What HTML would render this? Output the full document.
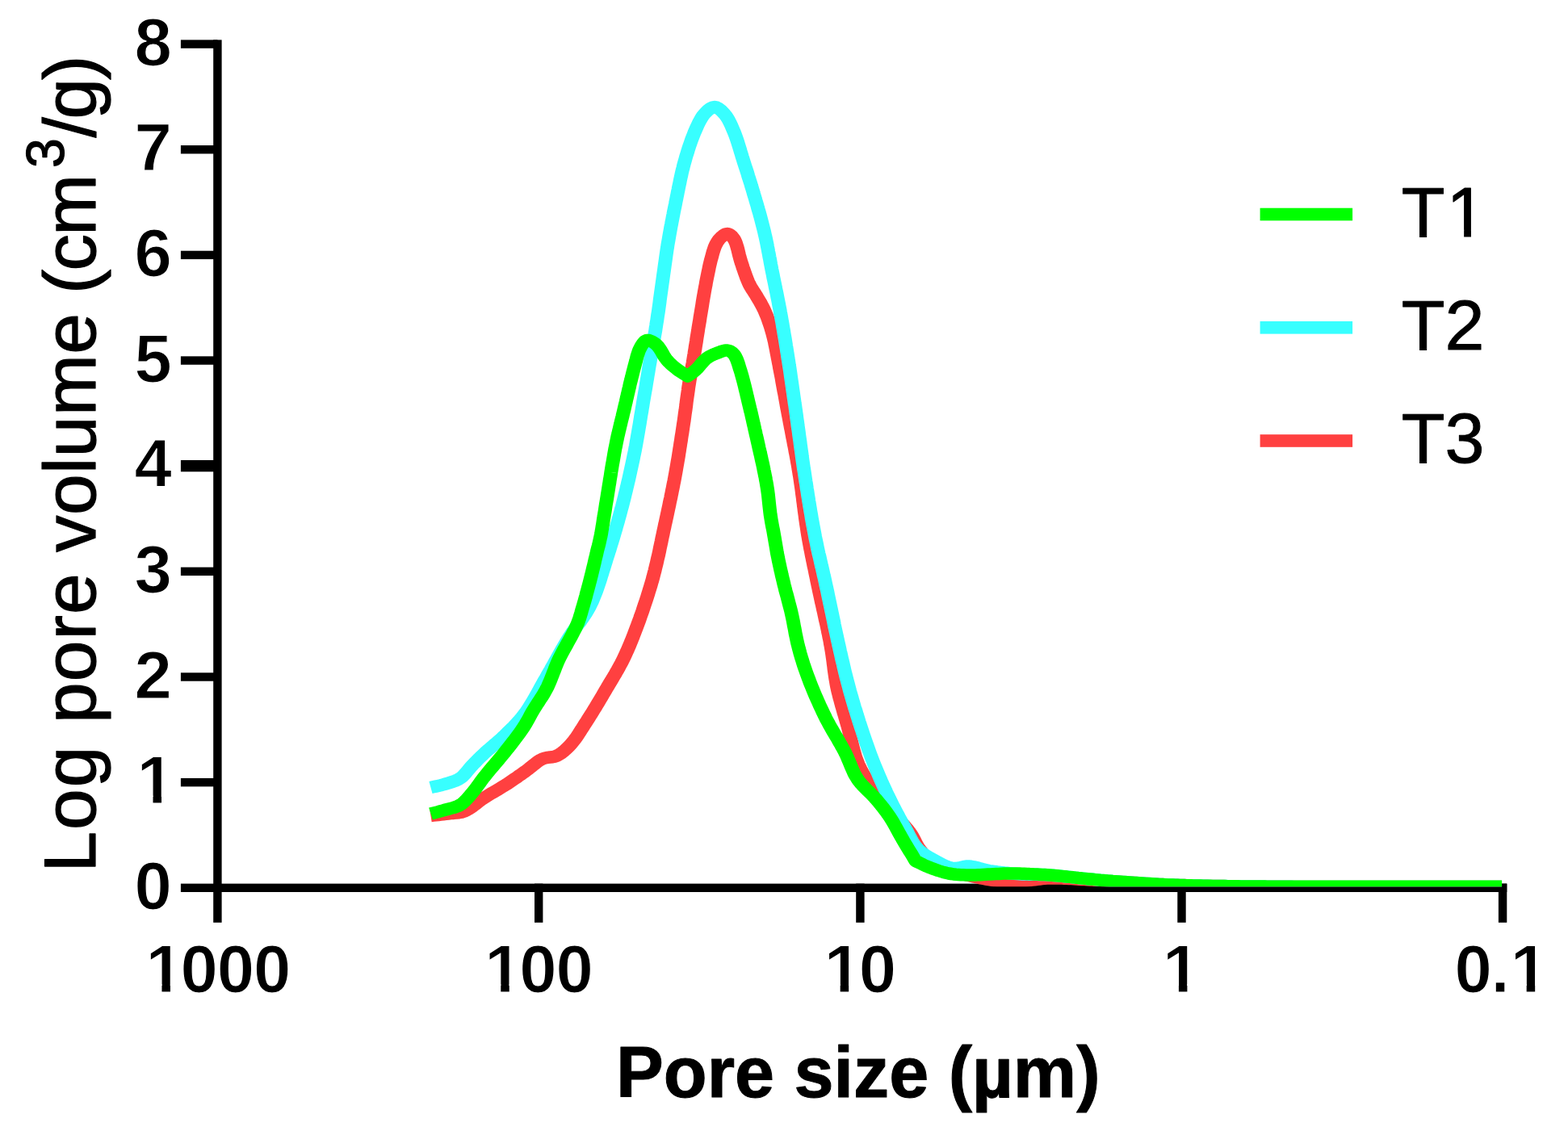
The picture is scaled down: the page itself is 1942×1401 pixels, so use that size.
<!DOCTYPE html>
<html>
<head>
<meta charset="utf-8">
<title>Pore size distribution</title>
<style>
html,body{margin:0;padding:0;background:#fff;}
body{width:1942px;height:1401px;overflow:hidden;}
svg{display:block;}
text{font-family:"Liberation Sans",Arial,Helvetica,sans-serif;fill:#000;}
.b{font-weight:bold;}
</style>
</head>
<body>
<svg xmlns="http://www.w3.org/2000/svg" width="1942" height="1401" viewBox="0 0 1942 1401">
<rect x="0" y="0" width="1942" height="1401" fill="#fff"/>
<defs><clipPath id="plot"><rect x="0" y="0" width="1942" height="1098.3"/></clipPath></defs>
<g fill="#000">
<rect x="264.2" y="49.4" width="10.4" height="1093.4"/>
<rect x="223.9" y="1094.6" width="1642.4" height="10.4"/>
<rect x="223.9" y="963.95" width="45.5" height="10.4"/>
<rect x="223.9" y="833.3" width="45.5" height="10.4"/>
<rect x="223.9" y="702.65" width="45.5" height="10.4"/>
<rect x="223.9" y="570" width="45.5" height="14.3"/>
<rect x="223.9" y="441.35" width="45.5" height="10.4"/>
<rect x="223.9" y="310.7" width="45.5" height="10.4"/>
<rect x="223.9" y="180.05" width="45.5" height="10.4"/>
<rect x="223.9" y="49.4" width="45.5" height="10.4"/>
<rect x="662" y="1094.6" width="10.4" height="48.2"/>
<rect x="1060.2" y="1094.6" width="10.4" height="48.2"/>
<rect x="1458.3" y="1094.6" width="10.4" height="48.2"/>
<rect x="1855.9" y="1094.6" width="10.4" height="48.2"/>
</g>
<g clip-path="url(#plot)">
<g transform="scale(1.0968,1)" fill="none" stroke-width="15.5" stroke-linejoin="round" stroke-linecap="butt">
<path stroke="#ff4040" d="M486.4,1010.5L489.2,1010.1L492,1009.8L494.9,1009.5L497.7,1009.1L500.5,1008.8L503.3,1008.4L506,1008L509.1,1007.6L512.1,1007.4L515.2,1007.1L518.2,1006.7L521.2,1006.1L524.3,1005L526.5,1003.9L528.8,1002.5L531,1000.9L533.3,999.2L535.6,997.3L537.9,995.4L540.2,993.4L542.5,991.5L544.8,989.7L547.1,988L549.6,986.3L552.1,984.6L554.6,982.9L557.2,981.3L559.7,979.7L562.3,978.1L564.8,976.4L567.3,974.7L569.9,973L572.2,971.4L574.5,969.7L576.8,968L579.1,966.3L581.4,964.6L583.7,962.9L585.9,961.1L588.2,959.4L590.4,957.7L592.6,956L594.9,954.1L597.2,952.2L599.5,950.2L601.7,948.2L603.9,946.3L606.1,944.4L608.3,942.7L610.5,941.2L612.7,940L615.5,939L618.3,938.4L621.1,938L623.8,937.7L626.5,937.1L629.1,936L631.5,934.6L633.8,932.9L636,931.1L638.2,929L640.4,926.8L642.5,924.5L644.6,922L646.3,919.8L648,917.5L649.7,915.1L651.3,912.6L652.9,910L654.4,907.4L656,904.6L657.7,901.8L659.3,898.9L661,896L662.4,893.7L663.7,891.4L665.1,889L666.5,886.5L668,884L669.4,881.5L670.8,878.9L672.3,876.3L673.8,873.6L675.2,871L676.7,868.3L678.1,865.7L679.6,863L681,860.3L682.4,857.6L683.8,855L685.2,852.4L686.6,849.9L687.9,847.4L689.3,844.9L690.6,842.5L692,840L693.3,837.5L694.7,835L696,832.4L697.4,829.8L698.7,827.2L700,824.5L701.4,821.8L702.7,819L704,816.1L705.3,813.1L706.6,810L707.6,807.6L708.6,805.2L709.6,802.7L710.6,800.1L711.6,797.5L712.6,794.8L713.6,792.1L714.6,789.3L715.6,786.5L716.6,783.7L717.6,780.8L718.6,777.9L719.6,775L720.6,772L721.6,769.1L722.6,766.1L723.5,763.1L724.5,760.1L725.5,757.1L726.4,754.1L727.3,751.1L728.2,748.1L729.1,745.2L730,742.2L730.9,739.3L731.7,736.4L732.5,733.5L733.3,730.6L734.1,727.8L734.9,725L735.7,721.9L736.5,718.9L737.3,715.8L738,712.7L738.7,709.7L739.5,706.6L740.1,703.6L740.8,700.5L741.5,697.5L742.1,694.5L742.7,691.4L743.4,688.4L744,685.4L744.6,682.4L745.1,679.4L745.7,676.4L746.3,673.4L746.9,670.4L747.4,667.5L748,664.5L748.6,661.6L749.1,658.7L749.7,655.8L750.3,652.9L750.8,650L751.5,646.9L752.1,643.8L752.7,640.7L753.3,637.7L753.9,634.6L754.5,631.6L755.1,628.6L755.7,625.6L756.2,622.6L756.8,619.6L757.4,616.7L757.9,613.7L758.5,610.7L759,607.8L759.6,604.8L760.1,601.9L760.6,598.9L761.2,595.9L761.7,593L762.2,590L762.7,587L763.2,583.9L763.7,580.8L764.2,577.6L764.7,574.5L765.2,571.3L765.7,568.2L766.2,565L766.6,561.9L767.1,558.7L767.5,555.6L768,552.4L768.4,549.3L768.9,546.2L769.3,543.1L769.7,540L770.2,537L770.6,533.9L771,530.9L771.4,528L771.8,525L772.3,521.7L772.7,518.4L773.1,515.1L773.5,511.7L774,508.4L774.4,505.1L774.8,501.8L775.1,498.6L775.5,495.4L775.9,492.3L776.3,489.2L776.7,486.2L777.1,483.2L777.4,480.4L777.8,477.6L778.2,475L778.7,471.5L779.2,468.3L779.7,465.4L780.2,462.5L780.7,459.6L781.2,456.7L781.7,453.5L782.3,450L782.7,447.3L783.1,444.6L783.5,441.7L784,438.7L784.4,435.6L784.9,432.5L785.3,429.3L785.8,426.1L786.3,422.8L786.7,419.5L787.2,416.2L787.7,412.9L788.2,409.6L788.6,406.4L789.1,403.2L789.6,400L790.1,396.9L790.5,393.7L791,390.4L791.5,387.2L792,383.9L792.5,380.7L793,377.4L793.4,374.2L793.9,371L794.4,367.8L794.9,364.7L795.4,361.6L795.9,358.6L796.4,355.6L796.9,352.8L797.3,350L797.9,346.6L798.5,343.4L799.1,340.2L799.7,337L800.3,334L800.8,331L801.4,328.1L802,325.3L802.6,322.6L803.3,320L804.2,316.2L805.1,312.5L806.1,309.1L807.1,305.9L808.3,303L810,299.6L812,296.5L814.2,294L816.5,291.9L819,290.1L821.5,289.5L824,290.5L826.5,292.8L828.8,296L829.8,298L830.8,300.4L831.6,303.1L832.4,306L833.2,309.2L833.9,312.4L834.6,315.7L835.4,318.9L836.2,322.1L837,325L838,328.1L838.9,331.3L839.9,334.4L840.9,337.6L841.9,340.7L842.9,343.8L844,346.7L845,349.4L846.1,352L847.6,355.1L849.1,357.9L850.7,360.5L852.3,363.2L853.9,366L855.4,368.8L856.9,371.6L858.5,374.5L860,377.6L861.5,380.7L863,384L864.1,386.8L865.2,389.7L866.3,392.6L867.3,395.7L868.3,398.8L869.3,402L870.3,405.3L871.2,408.6L872.1,412L872.8,414.9L873.5,417.9L874.1,420.8L874.8,423.8L875.3,426.9L875.9,430L876.5,433.2L877,436.4L877.6,439.7L878.2,443.1L878.8,446.5L879.4,450L879.9,452.6L880.3,455.3L880.8,458L881.3,460.8L881.8,463.6L882.3,466.4L882.8,469.3L883.2,472.2L883.7,475.2L884.2,478.2L884.7,481.2L885.2,484.2L885.8,487.3L886.3,490.3L886.8,493.4L887.3,496.5L887.8,499.6L888.3,502.7L888.8,505.8L889.4,508.9L889.9,512L890.4,514.9L890.9,517.8L891.4,520.7L891.9,523.6L892.4,526.5L892.9,529.5L893.5,532.5L894,535.5L894.5,538.5L895,541.5L895.6,544.5L896.1,547.5L896.6,550.6L897.2,553.6L897.7,556.6L898.2,559.7L898.8,562.7L899.3,565.8L899.8,568.8L900.3,571.9L900.8,574.9L901.3,577.9L901.7,581L902.2,584L902.6,587L903.1,590L903.5,593L903.9,596L904.3,599.1L904.7,602.1L905.1,605.1L905.5,608.2L905.8,611.2L906.2,614.3L906.6,617.3L906.9,620.4L907.3,623.4L907.6,626.4L908,629.5L908.3,632.5L908.7,635.5L909.1,638.5L909.4,641.5L909.8,644.5L910.2,647.4L910.6,650.4L911,653.3L911.4,656.2L911.8,659.1L912.2,662L912.7,665.1L913.2,668.2L913.7,671.3L914.2,674.3L914.7,677.3L915.2,680.3L915.8,683.2L916.3,686.2L916.8,689.1L917.4,692.1L917.9,695L918.5,697.9L919,700.9L919.6,703.8L920.2,706.8L920.7,709.8L921.3,712.7L921.9,715.8L922.4,718.8L923,721.9L923.6,725L924.2,727.9L924.7,730.8L925.3,733.8L925.9,736.8L926.5,739.8L927.1,742.9L927.7,746L928.4,749L929,752.1L929.6,755.2L930.3,758.4L930.9,761.5L931.5,764.6L932.1,767.7L932.8,770.8L933.4,773.8L934,776.9L934.6,779.9L935.1,782.9L935.7,785.8L936.2,788.8L936.8,791.6L937.3,794.5L937.7,797.3L938.2,800L938.7,803.4L939.2,806.7L939.7,810L940.1,813.2L940.5,816.4L940.9,819.5L941.2,822.6L941.6,825.6L941.9,828.7L942.3,831.7L942.7,834.7L943.1,837.8L943.5,840.8L944,843.8L944.5,846.9L945,850L945.6,853L946.2,855.9L946.9,858.9L947.5,861.8L948.2,864.8L949,867.7L949.7,870.6L950.4,873.6L951.2,876.5L952,879.5L952.7,882.4L953.5,885.3L954.3,888.3L955.1,891.2L955.8,894.1L956.6,897.1L957.4,900L958.1,903L958.8,905.9L959.4,908.9L960.1,911.9L960.7,914.8L961.3,917.8L961.9,920.8L962.6,923.8L963.3,926.7L964,929.7L964.7,932.6L965.5,935.6L966.3,938.5L967.3,941.4L968.3,944.3L969.4,947.2L970.6,950L971.8,952.6L973.1,955.2L974.4,957.9L975.9,960.5L977.4,963.1L979,965.7L980.6,968.3L982.3,970.9L984,973.5L985.7,976.1L987.5,978.6L989.3,981.1L991,983.6L992.8,986.1L994.6,988.5L996.3,990.9L998,993.2L999.7,995.5L1001.4,997.8L1002.9,1000L1004.8,1002.6L1006.7,1005.1L1008.6,1007.5L1010.6,1009.9L1012.5,1012.3L1014.5,1014.6L1016.4,1016.9L1018.2,1019.1L1020.1,1021.3L1021.8,1023.5L1023.5,1025.7L1025.1,1027.8L1026.6,1029.9L1028,1032L1029.8,1035L1031.3,1038L1032.7,1040.9L1033.9,1043.7L1035.3,1046.5L1036.7,1049.3L1038.5,1052L1040.2,1054.4L1042,1056.8L1043.9,1059.2L1045.9,1061.5L1048,1063.8L1050.2,1066.1L1052.6,1068.2L1055,1070.2L1057.6,1072L1060,1073.4L1062.4,1074.7L1065,1075.8L1067.6,1076.9L1070.4,1078L1073.2,1078.9L1076.1,1079.8L1079.1,1080.6L1082.1,1081.4L1085.1,1082.2L1088.1,1083L1091.1,1083.7L1094.1,1084.5L1096.8,1085.2L1099.5,1085.9L1102.3,1086.6L1105.1,1087.2L1107.9,1087.9L1110.8,1088.5L1113.7,1089.1L1116.5,1089.7L1119.4,1090.2L1122.3,1090.7L1125.3,1091.1L1128.2,1091.5L1131.1,1091.9L1134,1092.1L1136.8,1092.4L1139.7,1092.5L1142.5,1092.5L1145.4,1092.5L1148.2,1092.3L1151.1,1092.1L1153.9,1091.8L1156.8,1091.4L1159.6,1091L1162.5,1090.6L1165.3,1090.2L1168.2,1089.8L1171,1089.3L1173.9,1089L1176.7,1088.6L1179.6,1088.3L1182.4,1088.1L1185.3,1088L1188.1,1087.9L1190.9,1087.9L1193.6,1087.9L1196.3,1088L1199,1088.1L1201.7,1088.2L1204.4,1088.3L1207.1,1088.5L1209.9,1088.6L1212.6,1088.8L1215.5,1089L1218.4,1089.2L1221.4,1089.4L1224.4,1089.6L1227.6,1089.8L1230.9,1090L1233.2,1090.1L1235.6,1090.3L1238,1090.4L1240.5,1090.6L1243,1090.7L1245.6,1090.9L1248.2,1091.1L1250.8,1091.3L1253.5,1091.5L1256.2,1091.7L1259,1091.9L1261.7,1092.1L1264.5,1092.3L1267.4,1092.5L1270.2,1092.7L1273.1,1092.9L1276,1093.1L1278.8,1093.3L1281.8,1093.5L1284.7,1093.8L1287.6,1094L1290.5,1094.2L1293.4,1094.4L1296.3,1094.6L1299.3,1094.7L1302.2,1094.9L1305.1,1095.1L1307.9,1095.3L1310.8,1095.4L1313.6,1095.6L1316.5,1095.7L1319.3,1095.9L1322.1,1096L1324.8,1096.1L1327.5,1096.2L1330.2,1096.3L1332.8,1096.4L1335.4,1096.5L1338,1096.6L1340.5,1096.7L1343,1096.8L1345.6,1096.9L1348.1,1096.9L1350.6,1097L1353.1,1097.1L1355.6,1097.1L1358.1,1097.2L1360.7,1097.2L1363.2,1097.3L1365.8,1097.4L1368.4,1097.4L1371,1097.4L1373.7,1097.5L1376.4,1097.5L1379.1,1097.6L1381.9,1097.6L1384.7,1097.7L1387.6,1097.7L1390.6,1097.7L1393.6,1097.8L1396.7,1097.8L1399.8,1097.8L1403.1,1097.9L1406.4,1097.9L1409.8,1098L1413.2,1098L1415.2,1098L1417.3,1098L1419.3,1098.1L1421.4,1098.1L1423.5,1098.1L1425.7,1098.1L1427.8,1098.1L1430,1098.2L1432.3,1098.2L1434.5,1098.2L1436.8,1098.2L1439.1,1098.2L1441.4,1098.2L1443.7,1098.3L1446.1,1098.3L1448.5,1098.3L1450.9,1098.3L1453.4,1098.3L1455.8,1098.3L1458.3,1098.3L1460.8,1098.4L1463.3,1098.4L1465.9,1098.4L1468.4,1098.4L1471,1098.4L1473.6,1098.4L1476.2,1098.4L1478.8,1098.4L1481.5,1098.4L1484.2,1098.4L1486.8,1098.4L1489.5,1098.4L1492.3,1098.4L1495,1098.5L1497.7,1098.5L1500.5,1098.5L1503.3,1098.5L1506.1,1098.5L1508.9,1098.5L1511.7,1098.5L1514.5,1098.5L1517.3,1098.5L1520.2,1098.5L1523.1,1098.5L1525.9,1098.5L1528.8,1098.5L1531.7,1098.5L1534.6,1098.5L1537.5,1098.5L1540.4,1098.5L1543.4,1098.5L1546.3,1098.5L1549.2,1098.5L1552.2,1098.5L1555.1,1098.5L1558.1,1098.5L1561.1,1098.5L1564,1098.5L1567,1098.5L1570,1098.5L1573,1098.5L1575.9,1098.5L1578.9,1098.5L1581.9,1098.5L1584.9,1098.5L1587.9,1098.5L1590.9,1098.5L1593.9,1098.5L1596.9,1098.5L1599.9,1098.5L1602.9,1098.5L1605.9,1098.5L1608.9,1098.5L1611.9,1098.5L1614.9,1098.5L1617.8,1098.5L1620.8,1098.5L1623.8,1098.5L1626.8,1098.5L1629.8,1098.5L1632.7,1098.5L1635.7,1098.5L1638.6,1098.5L1641.6,1098.5L1644.5,1098.5L1647.5,1098.5L1650.4,1098.5L1653.3,1098.5L1656.2,1098.5L1659.1,1098.5L1662,1098.5L1664.9,1098.5L1667.8,1098.5L1670.6,1098.5L1673.5,1098.5L1676.3,1098.5L1679.2,1098.5L1682,1098.5L1684.8,1098.5L1687.6,1098.5L1690.4,1098.5L1693.1,1098.5L1695.9,1098.5"/>
<path stroke="#38ffff" d="M486.4,975.5L489.2,974.8L492.1,974.1L494.9,973.4L497.7,972.7L500.5,971.9L503.3,971L506.1,970.1L508.9,969.1L511.8,968.1L514.5,967L517.2,965.6L519.7,964L521.9,962.2L523.9,960L525.8,957.7L527.7,955.3L529.6,952.8L531.5,950.3L533.4,948L535.3,945.8L537.2,943.7L539,941.6L540.9,939.5L542.9,937.4L544.9,935.3L547.1,933L548.9,931.1L550.8,929.3L552.9,927.4L554.9,925.4L557.1,923.4L559.2,921.4L561.4,919.4L563.5,917.4L565.7,915.3L567.8,913.1L569.9,911L571.8,908.9L573.7,906.8L575.7,904.8L577.6,902.6L579.6,900.5L581.5,898.3L583.4,896.1L585.3,893.8L587.1,891.5L589,889.1L590.8,886.6L592.6,884L594.1,881.8L595.6,879.4L597,877.1L598.4,874.6L599.8,872.1L601.2,869.6L602.6,867L604,864.3L605.3,861.7L606.7,859L608.1,856.3L609.4,853.6L610.8,850.8L612.2,848.1L613.6,845.4L614.9,842.7L616.4,840L617.7,837.4L619,834.8L620.4,832.2L621.8,829.6L623.1,826.9L624.5,824.2L625.8,821.6L627.2,818.9L628.6,816.2L629.9,813.5L631.3,810.8L632.7,808.1L634.1,805.4L635.4,802.8L636.8,800.2L638.2,797.6L639.6,795L641,792.5L642.3,790L644,787.2L645.6,784.5L647.2,781.9L648.9,779.3L650.6,776.7L652.3,774.2L654,771.7L655.6,769.2L657.3,766.6L658.9,764L660.5,761.4L662.1,758.7L663.6,755.9L665.1,753L666.5,750L667.6,747.5L668.7,744.9L669.7,742.3L670.7,739.6L671.7,736.8L672.7,734.1L673.7,731.2L674.6,728.4L675.5,725.5L676.4,722.5L677.3,719.6L678.2,716.6L679,713.6L679.9,710.6L680.7,707.6L681.6,704.6L682.4,701.7L683.2,698.7L684.1,695.7L684.9,692.8L685.7,689.9L686.6,687L687.4,684L688.3,681.1L689.1,678.2L689.9,675.2L690.8,672.3L691.6,669.3L692.4,666.4L693.2,663.4L694,660.5L694.8,657.5L695.6,654.6L696.3,651.6L697.1,648.7L697.9,645.7L698.6,642.8L699.4,639.8L700.1,636.9L700.8,633.9L701.5,630.9L702.3,628L703,625L703.7,622L704.4,619L705.1,616L705.7,613.1L706.4,610.1L707.1,607.1L707.7,604.1L708.4,601.1L709,598.1L709.7,595.1L710.3,592L710.9,589L711.5,586L712.1,583L712.7,580L713.3,577L713.9,574L714.5,571L715.1,568L715.6,565L716.2,562L716.8,558.9L717.3,555.8L717.9,552.6L718.4,549.5L718.9,546.3L719.4,543.2L719.9,540L720.4,536.9L720.9,533.7L721.4,530.6L721.9,527.4L722.4,524.3L722.8,521.2L723.3,518.1L723.7,515L724.2,512L724.7,508.9L725.1,505.9L725.6,503L726,500L726.5,496.7L727,493.5L727.5,490.3L728,487.1L728.5,484L729,480.9L729.5,477.8L729.9,474.7L730.4,471.6L730.9,468.5L731.3,465.4L731.8,462.4L732.3,459.3L732.7,456.2L733.2,453.1L733.7,450L734.2,446.9L734.7,443.8L735.2,440.6L735.7,437.5L736.2,434.4L736.7,431.3L737.1,428.1L737.6,425L738.1,421.9L738.6,418.8L739.1,415.6L739.6,412.5L740.1,409.4L740.5,406.3L741,403.1L741.4,400L741.9,396.9L742.3,393.8L742.7,390.6L743.2,387.5L743.6,384.4L744,381.3L744.4,378.1L744.8,375L745.1,371.9L745.5,368.8L745.9,365.6L746.3,362.5L746.7,359.4L747.1,356.3L747.5,353.1L747.9,350L748.3,346.9L748.7,343.7L749.1,340.6L749.5,337.5L749.9,334.4L750.3,331.2L750.7,328.1L751.1,325L751.5,321.9L751.9,318.7L752.3,315.6L752.7,312.5L753.1,309.4L753.6,306.2L754,303.1L754.5,300L755,296.9L755.5,293.7L756,290.6L756.5,287.5L757,284.4L757.5,281.2L758.1,278.1L758.6,275L759.2,271.9L759.7,268.7L760.3,265.6L760.8,262.5L761.4,259.4L762,256.2L762.6,253.1L763.1,250L763.7,247L764.2,244.1L764.8,241.1L765.3,238.1L765.9,235.1L766.4,232L767,229L767.6,226L768.1,223L768.7,220L769.3,217.1L769.9,214.1L770.5,211.2L771.2,208.4L771.8,205.5L772.5,202.7L773.2,200L774,196.9L774.8,193.7L775.7,190.6L776.6,187.5L777.4,184.4L778.3,181.4L779.3,178.4L780.2,175.5L781.1,172.6L782.1,169.8L783.1,167.1L784,164.5L785,162L786.4,158.5L787.8,155.1L789.2,151.9L790.7,148.8L792.2,146L793.8,143.3L795.5,141L797.6,138.6L799.9,136.2L802.2,134.3L804.6,133L806.9,132.5L809.2,133.1L811.6,134.5L814,136.6L816.2,139L818.3,141.5L820,143.8L821.5,146.4L823,149.2L824.4,152.2L825.7,155.3L827,158.6L828.3,162L829.3,164.5L830.2,167.1L831.1,169.9L832,172.7L832.9,175.6L833.7,178.6L834.6,181.7L835.5,184.7L836.3,187.8L837.2,190.9L838,194L838.9,197L839.7,200L840.6,203L841.5,206.1L842.4,209.1L843.3,212.1L844.2,215.1L845,218.2L845.9,221.2L846.8,224.3L847.7,227.4L848.5,230.5L849.4,233.6L850.3,236.8L851.1,240L851.9,242.8L852.7,245.7L853.4,248.5L854.2,251.4L855,254.3L855.7,257.2L856.5,260.2L857.3,263.1L858,266.1L858.8,269.1L859.5,272L860.2,275L860.9,278L861.6,281L862.3,284L863,287L863.6,290.1L864.3,293.2L864.9,296.3L865.5,299.4L866.1,302.5L866.6,305.6L867.2,308.7L867.7,311.9L868.3,315L868.8,318.2L869.4,321.3L869.9,324.5L870.4,327.6L871,330.7L871.5,333.9L872.1,337L872.7,340.1L873.2,343.2L873.8,346.3L874.4,349.4L875,352.4L875.5,355.5L876.1,358.6L876.7,361.6L877.3,364.7L877.8,367.8L878.4,370.9L879,374.1L879.5,377.3L880.1,380.5L880.7,383.7L881.2,387L881.7,389.8L882.2,392.7L882.6,395.6L883.1,398.5L883.6,401.5L884,404.5L884.5,407.5L885,410.5L885.4,413.5L885.9,416.5L886.4,419.6L886.8,422.6L887.3,425.7L887.7,428.8L888.2,431.8L888.6,434.9L889.1,437.9L889.5,441L889.9,444L890.4,447L890.8,450L891.2,453.1L891.7,456.2L892.1,459.3L892.5,462.3L892.9,465.4L893.3,468.4L893.7,471.5L894.1,474.5L894.5,477.6L894.9,480.7L895.3,483.7L895.7,486.8L896.1,489.9L896.5,493L896.9,496.1L897.3,499.2L897.8,502.4L898.2,505.6L898.6,508.8L899,512L899.4,514.9L899.7,517.8L900.1,520.7L900.5,523.6L900.8,526.5L901.2,529.5L901.6,532.5L902,535.5L902.3,538.5L902.7,541.5L903.1,544.5L903.5,547.5L903.8,550.6L904.2,553.6L904.6,556.7L905,559.7L905.4,562.8L905.7,565.8L906.1,568.9L906.5,571.9L906.9,574.9L907.3,578L907.7,581L908.2,584L908.6,587L909,590L909.4,593L909.8,596.1L910.3,599.1L910.7,602.1L911.1,605.2L911.6,608.2L912,611.3L912.4,614.3L912.9,617.3L913.3,620.4L913.8,623.4L914.2,626.5L914.7,629.5L915.1,632.5L915.6,635.5L916.1,638.5L916.5,641.5L917,644.5L917.5,647.4L918,650.4L918.5,653.3L919,656.2L919.5,659.1L920,662L920.5,665.1L921.1,668.2L921.7,671.3L922.3,674.3L922.8,677.3L923.4,680.3L924,683.2L924.6,686.2L925.3,689.1L925.9,692.1L926.5,695L927.1,697.9L927.7,700.9L928.4,703.8L929,706.8L929.6,709.7L930.2,712.7L930.9,715.8L931.5,718.8L932.1,721.9L932.7,725L933.3,727.9L933.9,730.8L934.5,733.8L935,736.8L935.6,739.8L936.2,742.9L936.8,746L937.4,749L938,752.1L938.6,755.3L939.2,758.4L939.8,761.5L940.4,764.6L941,767.7L941.6,770.8L942.1,773.9L942.7,776.9L943.3,779.9L943.9,782.9L944.5,785.9L945.1,788.8L945.6,791.7L946.2,794.5L946.8,797.3L947.3,800L948,803.2L948.6,806.4L949.3,809.4L949.9,812.5L950.5,815.5L951.1,818.4L951.8,821.3L952.4,824.2L953,827.1L953.6,830L954.2,832.8L954.9,835.6L955.5,838.5L956.2,841.3L956.9,844.2L957.6,847.1L958.3,850L959,853L959.7,855.9L960.5,858.9L961.3,861.9L962,864.8L962.8,867.8L963.6,870.8L964.4,873.7L965.2,876.7L966.1,879.6L966.9,882.6L967.7,885.5L968.6,888.5L969.4,891.4L970.2,894.3L971.1,897.1L971.9,900L972.9,903.1L973.8,906.2L974.7,909.2L975.7,912.3L976.6,915.3L977.5,918.3L978.5,921.3L979.5,924.3L980.4,927.3L981.4,930.3L982.4,933.2L983.4,936.2L984.4,939.1L985.5,942.1L986.5,945L987.6,947.9L988.6,950.7L989.7,953.6L990.8,956.4L991.9,959.3L993,962.1L994.1,964.9L995.2,967.7L996.4,970.5L997.5,973.3L998.7,976.1L999.9,978.8L1001,981.6L1002.2,984.3L1003.4,987L1004.6,989.8L1005.9,992.6L1007.2,995.4L1008.5,998.3L1009.8,1001.1L1011.1,1003.8L1012.4,1006.6L1013.8,1009.3L1015.1,1012.1L1016.4,1014.7L1017.7,1017.4L1019.1,1020L1020.3,1022.5L1021.6,1025L1023.1,1028L1024.6,1030.9L1025.9,1033.8L1027.3,1036.7L1028.7,1039.5L1030.1,1042.3L1031.6,1044.9L1033.2,1047.4L1034.9,1049.8L1036.7,1052L1038.7,1054.1L1040.9,1056.1L1043.2,1057.9L1045.6,1059.7L1048,1061.3L1050.4,1062.8L1052.9,1064.2L1055.3,1065.6L1057.6,1067L1060.3,1068.6L1062.9,1070.1L1065.5,1071.6L1068,1072.9L1070.6,1074L1073.2,1074.9L1075.9,1075.5L1078.9,1075.6L1081.8,1075.2L1084.8,1074.5L1087.9,1073.7L1091,1073.1L1094.1,1073L1096.8,1073.3L1099.6,1073.8L1102.3,1074.5L1105.1,1075.3L1108,1076.2L1110.9,1077.1L1113.9,1077.8L1116.9,1078.5L1119.6,1079L1122.3,1079.4L1125.2,1079.8L1128,1080.3L1130.9,1080.6L1133.9,1081L1136.8,1081.3L1139.8,1081.7L1142.8,1082L1145.8,1082.2L1148.8,1082.5L1151.5,1082.7L1154.3,1082.9L1157,1083L1159.7,1083.1L1162.5,1083.2L1165.3,1083.2L1168.1,1083.3L1170.9,1083.3L1173.7,1083.4L1176.6,1083.5L1179.4,1083.6L1182.4,1083.8L1185.3,1084L1188,1084.2L1190.8,1084.5L1193.6,1084.7L1196.5,1085L1199.4,1085.4L1202.4,1085.7L1205.3,1086L1208.3,1086.4L1211.2,1086.7L1214.2,1087.1L1217.1,1087.4L1219.9,1087.8L1222.8,1088.1L1225.5,1088.4L1228.2,1088.7L1230.9,1089L1234,1089.3L1236.9,1089.6L1239.7,1089.9L1242.5,1090.2L1245.2,1090.4L1247.9,1090.7L1250.7,1091L1253.5,1091.2L1256.5,1091.5L1259.5,1091.7L1262.8,1092L1265.2,1092.2L1267.7,1092.4L1270.2,1092.6L1272.8,1092.8L1275.4,1093L1278,1093.2L1280.7,1093.4L1283.5,1093.6L1286.2,1093.8L1289.1,1094L1291.9,1094.2L1294.8,1094.4L1297.7,1094.6L1300.7,1094.8L1303.7,1095L1306.7,1095.2L1309.7,1095.4L1312.8,1095.5L1315.8,1095.7L1318.9,1095.9L1322.1,1096L1324.5,1096.1L1327,1096.2L1329.4,1096.3L1331.9,1096.4L1334.3,1096.5L1336.8,1096.6L1339.2,1096.7L1341.7,1096.7L1344.2,1096.8L1346.6,1096.9L1349.1,1097L1351.7,1097L1354.2,1097.1L1356.8,1097.1L1359.3,1097.2L1362,1097.3L1364.6,1097.3L1367.3,1097.4L1370,1097.4L1372.8,1097.5L1375.6,1097.5L1378.4,1097.5L1381.3,1097.6L1384.2,1097.6L1387.2,1097.7L1390.2,1097.7L1393.3,1097.8L1396.5,1097.8L1399.7,1097.8L1403,1097.9L1406.3,1097.9L1409.7,1098L1413.2,1098L1415.2,1098L1417.3,1098L1419.3,1098.1L1421.4,1098.1L1423.5,1098.1L1425.7,1098.1L1427.8,1098.1L1430,1098.2L1432.3,1098.2L1434.5,1098.2L1436.8,1098.2L1439.1,1098.2L1441.4,1098.2L1443.7,1098.3L1446.1,1098.3L1448.5,1098.3L1450.9,1098.3L1453.4,1098.3L1455.8,1098.3L1458.3,1098.3L1460.8,1098.4L1463.3,1098.4L1465.9,1098.4L1468.4,1098.4L1471,1098.4L1473.6,1098.4L1476.2,1098.4L1478.8,1098.4L1481.5,1098.4L1484.2,1098.4L1486.8,1098.4L1489.5,1098.4L1492.3,1098.4L1495,1098.5L1497.7,1098.5L1500.5,1098.5L1503.3,1098.5L1506.1,1098.5L1508.9,1098.5L1511.7,1098.5L1514.5,1098.5L1517.3,1098.5L1520.2,1098.5L1523.1,1098.5L1525.9,1098.5L1528.8,1098.5L1531.7,1098.5L1534.6,1098.5L1537.5,1098.5L1540.4,1098.5L1543.4,1098.5L1546.3,1098.5L1549.2,1098.5L1552.2,1098.5L1555.1,1098.5L1558.1,1098.5L1561.1,1098.5L1564,1098.5L1567,1098.5L1570,1098.5L1573,1098.5L1575.9,1098.5L1578.9,1098.5L1581.9,1098.5L1584.9,1098.5L1587.9,1098.5L1590.9,1098.5L1593.9,1098.5L1596.9,1098.5L1599.9,1098.5L1602.9,1098.5L1605.9,1098.5L1608.9,1098.5L1611.9,1098.5L1614.9,1098.5L1617.8,1098.5L1620.8,1098.5L1623.8,1098.5L1626.8,1098.5L1629.8,1098.5L1632.7,1098.5L1635.7,1098.5L1638.6,1098.5L1641.6,1098.5L1644.5,1098.5L1647.5,1098.5L1650.4,1098.5L1653.3,1098.5L1656.2,1098.5L1659.1,1098.5L1662,1098.5L1664.9,1098.5L1667.8,1098.5L1670.6,1098.5L1673.5,1098.5L1676.3,1098.5L1679.2,1098.5L1682,1098.5L1684.8,1098.5L1687.6,1098.5L1690.4,1098.5L1693.1,1098.5L1695.9,1098.5"/>
<path stroke="#00ff00" d="M486.4,1008L489.2,1007.2L492.1,1006.4L494.9,1005.6L497.7,1004.7L500.5,1003.9L503.3,1003L506.1,1002.2L508.9,1001.4L511.7,1000.6L514.5,999.6L517.2,998.5L519.7,997L521.9,995.4L523.9,993.5L525.9,991.4L527.8,989.1L529.7,986.8L531.5,984.4L533.4,982L535.1,979.7L536.8,977.4L538.4,974.9L540,972.5L541.7,969.9L543.4,967.3L545.2,964.7L547.1,962L548.6,959.9L550.2,957.7L551.9,955.5L553.6,953.2L555.4,950.9L557.2,948.6L559,946.3L560.9,943.9L562.7,941.5L564.5,939.1L566.3,936.8L568.1,934.4L569.9,932L571.6,929.6L573.4,927.1L575.2,924.6L577,922.1L578.8,919.5L580.6,917L582.4,914.4L584.1,911.9L585.8,909.4L587.4,907L588.9,904.6L590.4,902.2L591.7,900L593.4,897L594.9,894.2L596.3,891.5L597.6,888.9L598.9,886.2L600.2,883.4L601.8,880.5L603.2,878L604.7,875.4L606.2,872.7L607.8,870.1L609.4,867.4L611.1,864.6L612.7,861.8L614.3,858.9L615.8,856L617.3,853L618.5,850.4L619.6,847.6L620.7,844.8L621.8,841.9L622.9,838.9L624,835.9L625,832.9L626.1,830L627.1,827L628.2,824.1L629.2,821.3L630.3,818.6L631.4,816L632.8,813L634.2,810L635.6,807.1L637,804.3L638.4,801.6L639.8,798.9L641.1,796.2L642.4,793.6L643.7,791L645.1,788.2L646.4,785.4L647.7,782.7L649,780.1L650.2,777.4L651.3,774.7L652.4,772L653.4,768.9L654.4,765.9L655.2,762.8L656.1,759.7L656.9,756.4L657.8,753L658.6,750.2L659.3,747.4L660.1,744.4L660.9,741.3L661.7,738.2L662.4,735L663.2,731.8L664,728.6L664.8,725.3L665.6,722L666.3,719.1L667,716.1L667.7,713L668.4,709.9L669.1,706.7L669.8,703.5L670.5,700.3L671.2,697.2L671.8,694.1L672.5,691.1L673.1,688.3L673.7,685.6L674.2,683L675,679.5L675.8,676.3L676.5,673.2L677.1,670.3L677.7,667.2L678.4,664L678.9,661.2L679.3,658.3L679.8,655.3L680.2,652.3L680.7,649.3L681.1,646.2L681.5,643.1L682,640L682.4,637L682.9,634.1L683.3,631.2L683.7,628.3L684.1,625.3L684.6,622.2L685.1,619L685.6,615.6L686.1,612L686.5,609.4L686.9,606.7L687.3,603.9L687.7,601L688.2,597.9L688.6,594.8L689.1,591.6L689.6,588.4L690,585.1L690.5,581.8L691,578.5L691.5,575.1L692.1,571.8L692.6,568.5L693.1,565.3L693.6,562L694.1,558.9L694.6,555.8L695.2,552.9L695.7,550L696.3,546.7L696.9,543.5L697.5,540.3L698.2,537.2L698.8,534.2L699.5,531.2L700.1,528.2L700.8,525.2L701.4,522.3L702.1,519.3L702.8,516.3L703.4,513.2L704.1,510.2L704.8,507L705.4,504.1L706,501.2L706.7,498.2L707.3,495.1L708,492.1L708.6,489L709.3,485.9L709.9,482.7L710.6,479.7L711.2,476.6L711.9,473.6L712.6,470.6L713.2,467.7L713.9,464.9L714.5,462.1L715.1,459.5L715.7,457L716.5,453.6L717.3,450.4L718.1,447.2L718.8,444.1L719.5,441.1L720.3,438.3L721.1,435.7L722,433.2L723,431L724.6,427.8L726.4,424.9L728.2,422.7L730.3,421.5L732.9,421.6L735.7,422.8L738.6,424.7L741.3,427L743.1,429.1L744.8,431.6L746.5,434.5L748.1,437.6L749.7,440.7L751.4,443.5L753.1,446L755.2,448.5L757.4,450.8L759.5,453L761.8,455L764.1,457L766.4,458.9L768.9,460.7L771.4,462.5L773.9,464.2L776.4,466L778.8,464.1L781.1,462.2L783.5,460.2L785.9,458L787.9,455.9L789.8,453.4L791.7,450.9L793.7,448.4L795.7,446L797.8,444L800.2,442.2L802.8,440.6L805.4,439.3L808,438.1L810.6,437L813.4,435.8L816.2,434.7L819,434L821.5,434L824.2,434.9L826.6,436.6L828.8,439L830.1,441L831.2,443.4L832.3,446.2L833.3,449.2L834.2,452.4L835.1,455.7L836.1,459L836.8,461.5L837.5,464.2L838.2,467L838.9,469.8L839.6,472.7L840.3,475.7L841,478.7L841.6,481.7L842.3,484.8L843,487.9L843.6,490.9L844.3,494L844.9,496.8L845.5,499.6L846.1,502.4L846.7,505.2L847.3,508L848,510.8L848.6,513.7L849.2,516.6L849.8,519.5L850.4,522.5L851,525.5L851.7,528.6L852.3,531.8L853,535L853.5,537.7L854.1,540.4L854.7,543.2L855.3,546.1L855.9,549.1L856.5,552.1L857.1,555.1L857.8,558.2L858.4,561.3L859.1,564.4L859.7,567.5L860.3,570.6L861,573.8L861.6,576.9L862.2,579.9L862.7,583L863.3,586L863.8,588.9L864.4,591.8L864.8,594.6L865.3,597.3L865.7,600L866.2,603.4L866.7,606.8L867.1,610.1L867.5,613.4L867.8,616.6L868.1,619.8L868.4,622.9L868.7,625.9L869,628.9L869.3,631.8L869.6,634.6L869.9,637.3L870.3,640L870.8,643.5L871.3,646.7L871.8,649.8L872.3,652.8L872.9,655.8L873.4,658.8L873.9,662L874.4,665.1L874.9,668.3L875.4,671.4L875.9,674.7L876.4,677.9L876.9,681.2L877.4,684.6L878,688L878.6,690.9L879.1,693.9L879.7,696.9L880.3,700L880.9,703.1L881.5,706.2L882.2,709.3L882.8,712.5L883.5,715.7L884.2,718.8L884.9,722L885.5,724.9L886.2,727.7L886.8,730.6L887.5,733.5L888.3,736.4L889,739.3L889.7,742.3L890.4,745.2L891.1,748.2L891.8,751.1L892.5,754.1L893.2,757L893.8,760L894.4,763L895,766.1L895.6,769.2L896.1,772.3L896.6,775.4L897.2,778.5L897.7,781.6L898.2,784.7L898.8,787.8L899.4,790.9L900,793.9L900.6,797L901.3,800L902,803.1L902.8,806.2L903.5,809.3L904.3,812.3L905.1,815.3L906,818.3L906.8,821.3L907.7,824.4L908.7,827.5L909.7,830.6L910.7,833.8L911.8,837L912.7,839.6L913.6,842.3L914.5,845L915.5,847.7L916.5,850.5L917.6,853.3L918.6,856.1L919.7,859L920.8,861.8L922,864.7L923.1,867.5L924.3,870.4L925.4,873.2L926.6,876L927.8,878.8L929,881.6L930.2,884.3L931.4,887L932.6,889.8L933.9,892.5L935.3,895.2L936.6,898L938,900.7L939.4,903.4L940.8,906.1L942.2,908.8L943.6,911.4L945.1,914.1L946.5,916.7L947.8,919.3L949.2,921.9L950.5,924.5L951.8,927L953,929.5L954.2,932L955.5,934.9L956.7,937.8L957.8,940.7L958.9,943.6L960,946.4L961,949.2L962.1,952L963.2,954.7L964.3,957.4L965.5,960L966.9,962.5L968.3,965L969.9,967.5L971.7,970L973.6,972.3L975.6,974.6L977.6,976.9L979.6,979.1L981.6,981.2L983.6,983.4L985.6,985.6L987.5,987.8L989.3,990L991.1,992.4L993,994.9L994.7,997.2L996.5,999.6L998.2,1002L999.9,1004.4L1001.5,1006.9L1003.1,1009.4L1004.8,1012L1006.3,1014.6L1007.8,1017.3L1009.3,1020.1L1010.7,1022.9L1012.2,1025.8L1013.6,1028.7L1015,1031.5L1016.5,1034.4L1017.9,1037.2L1019.4,1040L1020.8,1042.7L1022.3,1045.4L1023.7,1048L1025.2,1050.7L1026.6,1053.3L1028.1,1055.9L1029.6,1058.6L1031,1061.2L1032.5,1063.9L1033.9,1066.5L1036.8,1068L1039.6,1069.5L1042.4,1071.1L1045.4,1072.6L1048.5,1074L1051.1,1075.1L1053.8,1076.2L1056.7,1077.4L1059.5,1078.5L1062.5,1079.5L1065.5,1080.5L1068.4,1081.3L1071.3,1082L1074.1,1082.5L1076.8,1083L1079.5,1083.3L1082.2,1083.5L1085,1083.7L1087.9,1083.8L1090.9,1083.9L1094.1,1084L1096.5,1084L1099.1,1084L1101.7,1083.9L1104.4,1083.8L1107.2,1083.7L1110.1,1083.5L1113,1083.3L1115.9,1083.1L1118.9,1082.9L1121.9,1082.7L1124.9,1082.5L1127.9,1082.4L1130.9,1082.2L1133.9,1082.1L1136.8,1082L1139.7,1082L1142.6,1082L1145.4,1082L1148.3,1082.1L1151.1,1082.1L1154,1082.2L1156.8,1082.3L1159.7,1082.4L1162.5,1082.6L1165.4,1082.7L1168.2,1082.9L1171.1,1083L1173.9,1083.2L1176.8,1083.4L1179.6,1083.6L1182.4,1083.8L1185.3,1084L1188.2,1084.2L1191.1,1084.5L1194,1084.8L1196.9,1085.1L1199.8,1085.4L1202.8,1085.7L1205.7,1086.1L1208.6,1086.4L1211.5,1086.8L1214.4,1087.1L1217.2,1087.5L1220.1,1087.8L1222.8,1088.1L1225.6,1088.4L1228.3,1088.7L1230.9,1089L1234,1089.3L1236.9,1089.6L1239.7,1089.9L1242.5,1090.2L1245.2,1090.4L1247.9,1090.7L1250.7,1091L1253.5,1091.2L1256.5,1091.5L1259.5,1091.7L1262.8,1092L1265.2,1092.2L1267.7,1092.4L1270.2,1092.6L1272.8,1092.8L1275.4,1093L1278,1093.2L1280.7,1093.4L1283.5,1093.6L1286.2,1093.8L1289.1,1094L1291.9,1094.2L1294.8,1094.4L1297.7,1094.6L1300.7,1094.8L1303.7,1095L1306.7,1095.2L1309.7,1095.4L1312.8,1095.5L1315.8,1095.7L1318.9,1095.9L1322.1,1096L1324.5,1096.1L1327,1096.2L1329.5,1096.3L1332.1,1096.4L1334.6,1096.5L1337.2,1096.6L1339.8,1096.7L1342.4,1096.7L1345,1096.8L1347.7,1096.9L1350.3,1097L1353,1097L1355.7,1097.1L1358.4,1097.2L1361.1,1097.2L1363.9,1097.3L1366.7,1097.3L1369.4,1097.4L1372.2,1097.4L1375.1,1097.5L1377.9,1097.5L1380.8,1097.6L1383.6,1097.6L1386.5,1097.7L1389.4,1097.7L1392.3,1097.7L1395.3,1097.8L1398.2,1097.8L1401.2,1097.9L1404.2,1097.9L1407.2,1097.9L1410.2,1098L1413.2,1098L1415.7,1098L1418.2,1098.1L1420.7,1098.1L1423.2,1098.1L1425.8,1098.1L1428.3,1098.1L1430.9,1098.2L1433.5,1098.2L1436.1,1098.2L1438.7,1098.2L1441.4,1098.2L1444,1098.2L1446.7,1098.2L1449.4,1098.2L1452.1,1098.2L1454.8,1098.3L1457.5,1098.3L1460.2,1098.3L1463,1098.3L1465.7,1098.3L1468.5,1098.3L1471.3,1098.3L1474,1098.3L1476.8,1098.3L1479.6,1098.3L1482.4,1098.3L1485.2,1098.3L1488,1098.3L1490.8,1098.3L1493.6,1098.3L1496.5,1098.2L1499.3,1098.2L1502.1,1098.2L1504.9,1098.2L1507.8,1098.2L1510.6,1098.2L1513.4,1098.2L1516.3,1098.2L1519.1,1098.2L1521.9,1098.2L1524.7,1098.2L1527.6,1098.2L1530.4,1098.2L1533.2,1098.2L1536,1098.2L1538.8,1098.2L1541.6,1098.2L1544.4,1098.2L1547.2,1098.2L1550,1098.2L1552.7,1098.2L1555.4,1098.2L1558.1,1098.2L1560.9,1098.2L1563.6,1098.2L1566.3,1098.2L1569,1098.2L1571.8,1098.2L1574.5,1098.2L1577.2,1098.2L1580,1098.2L1582.7,1098.2L1585.5,1098.2L1588.2,1098.2L1590.9,1098.2L1593.7,1098.2L1596.4,1098.2L1599.2,1098.2L1602,1098.2L1604.7,1098.2L1607.5,1098.2L1610.2,1098.2L1613,1098.2L1615.7,1098.2L1618.5,1098.2L1621.3,1098.2L1624,1098.2L1626.8,1098.2L1629.6,1098.2L1632.3,1098.2L1635.1,1098.2L1637.9,1098.2L1640.6,1098.2L1643.4,1098.2L1646.2,1098.2L1648.9,1098.2L1651.7,1098.2L1654.5,1098.2L1657.2,1098.2L1660,1098.2L1662.8,1098.2L1665.5,1098.2L1668.3,1098.2L1671.1,1098.2L1673.8,1098.2L1676.6,1098.2L1679.3,1098.2L1682.1,1098.2L1684.9,1098.2L1687.6,1098.2L1690.4,1098.2L1693.1,1098.2L1695.9,1098.2"/>
</g></g>
<g class="b" font-size="83.3" letter-spacing="-1.15" stroke="#fff" stroke-width="1.2">
<text x="166.6" y="1126">0</text>
<text x="169.6" y="995.35">1</text>
<text x="166.6" y="864.7">2</text>
<text x="166.6" y="734.05">3</text>
<text x="166.6" y="603.4">4</text>
<text x="166.6" y="472.75">5</text>
<text x="166.6" y="342.1">6</text>
<text x="166.6" y="211.45">7</text>
<text x="166.6" y="80.8">8</text>
<text x="180.55 223.53 268.7 313.88" y="1228.8">1000</text>
<text x="600.35 643.33 688.5" y="1228.8">100</text>
<text x="1020.75 1063.73" y="1228.8">10</text>
<text x="1440" y="1228.8">1</text>
<text x="1801.4 1846.58 1870.77" y="1228.8">0.1</text>
</g>
<text class="b" font-size="88.2" stroke="#000" stroke-width="1.0" stroke-linejoin="round" text-anchor="middle" x="1062.8" y="1359.3">Pore size (µm)</text>
<text font-size="91" stroke="#000" stroke-width="1.2" stroke-linejoin="round" transform="translate(117.6,0) rotate(-90)"><tspan x="-1080.5" y="0" font-size="91" letter-spacing="2.0">Log</tspan><tspan x="-896" y="0" font-size="91" letter-spacing="1.2">pore</tspan><tspan x="-684" y="0" font-size="91" letter-spacing="0.5">volume</tspan><tspan x="-364" y="0" font-size="91" letter-spacing="-1.8">(cm</tspan><tspan x="-208" y="-38.5" font-size="66" letter-spacing="0">3</tspan><tspan x="-170.5" y="0" font-size="91" letter-spacing="-2.2">/g)</tspan></text>
<rect x="1560.6" y="257.7" width="114.5" height="15.6" fill="#00ff00"/>
<text font-size="88" stroke="#000" stroke-width="1.0" stroke-linejoin="round" x="1735.8 1791.55" y="292.5">T1</text>
<rect x="1560.6" y="398" width="114.5" height="15.6" fill="#38ffff"/>
<text font-size="88" stroke="#000" stroke-width="1.0" stroke-linejoin="round" x="1735.8 1789.55" y="432.8">T2</text>
<rect x="1560.6" y="538.2" width="114.5" height="15.6" fill="#ff4040"/>
<text font-size="88" stroke="#000" stroke-width="1.0" stroke-linejoin="round" x="1735.8 1789.55" y="573">T3</text>
<g fill="#fff">
<rect x="173.65" y="985.69" width="15.86" height="10.86"/>
<rect x="200" y="985.69" width="14.78" height="10.86"/>
<rect x="184.6" y="1219.14" width="15.86" height="10.86"/>
<rect x="210.95" y="1219.14" width="14.78" height="10.86"/>
<rect x="604.4" y="1219.14" width="15.86" height="10.86"/>
<rect x="630.75" y="1219.14" width="14.78" height="10.86"/>
<rect x="1024.8" y="1219.14" width="15.86" height="10.86"/>
<rect x="1051.15" y="1219.14" width="14.78" height="10.86"/>
<rect x="1444.05" y="1219.14" width="15.86" height="10.86"/>
<rect x="1470.4" y="1219.14" width="14.78" height="10.86"/>
<rect x="1874.82" y="1219.14" width="15.86" height="10.86"/>
<rect x="1901.17" y="1219.14" width="14.78" height="10.86"/>
<rect x="1796.74" y="284.6" width="16.4" height="9.4"/>
<rect x="1821.97" y="284.6" width="16.2" height="9.4"/>
</g>
</svg>
</body>
</html>
